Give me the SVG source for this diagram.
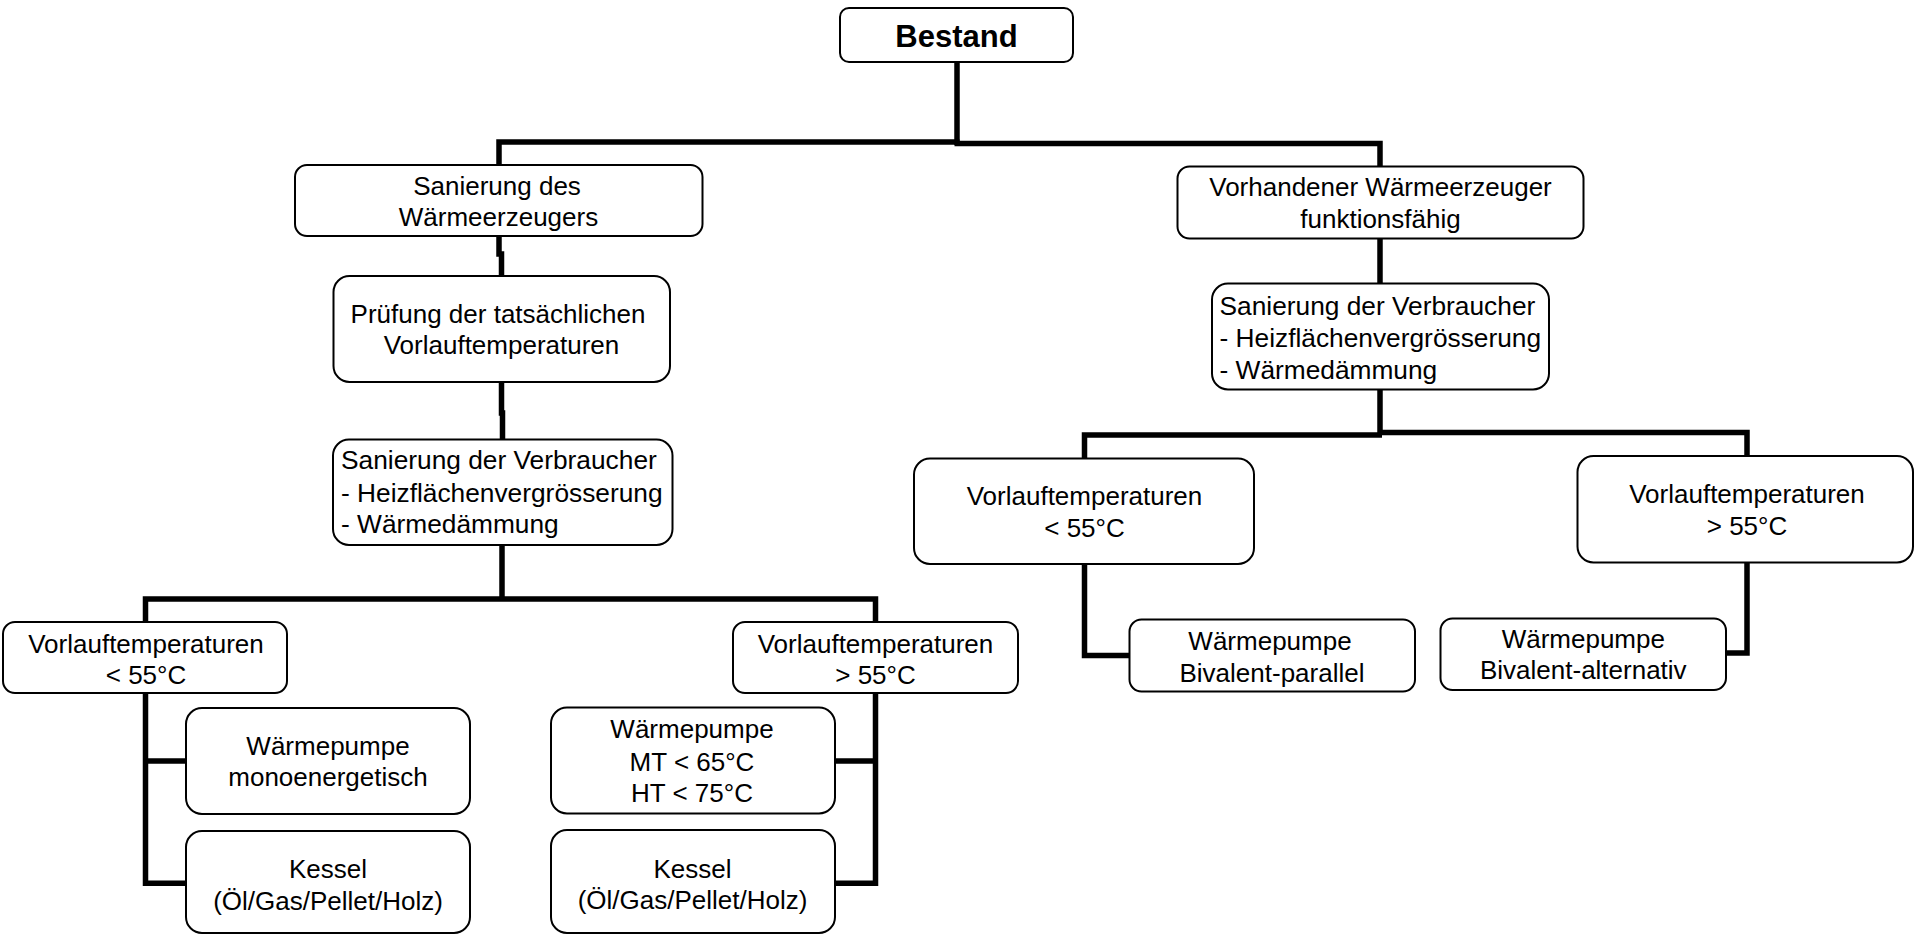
<svg xmlns="http://www.w3.org/2000/svg" width="1915" height="935" viewBox="0 0 1915 935">
<style>
  .box { fill: #ffffff; stroke: #000000; stroke-width: 2; }
  .t { font-family: "Liberation Sans", Arial, sans-serif; font-size: 26px; fill: #000000; text-anchor: middle; }
  .tl { font-family: "Liberation Sans", Arial, sans-serif; font-size: 26.3px; fill: #000000; text-anchor: start; }
  .tb { font-family: "Liberation Sans", Arial, sans-serif; font-size: 31px; font-weight: bold; fill: #000000; text-anchor: middle; }
  .con { fill: none; stroke: #000000; stroke-width: 5.5; stroke-linejoin: miter; stroke-linecap: butt; }
</style>
<rect x="0" y="0" width="1915" height="935" fill="#ffffff"/>
<g id="connectors">
  <path class="con" d="M957,62 V145"/>
  <path class="con" d="M959.5,142 H499 V165"/>
  <path class="con" d="M954.5,143.5 H1380 V166.5"/>
  <path class="con" d="M499,236 V254 H501.5 V276"/>
  <path class="con" d="M501.5,382 V413 H502.5 V439.5"/>
  <path class="con" d="M502,544.5 V599"/>
  <path class="con" d="M145.5,622 V599 H875.5 V622"/>
  <path class="con" d="M145.5,693 V883.3 H186 M145.5,761 H186"/>
  <path class="con" d="M875.5,693 V883.3 H835 M875.5,761 H835"/>
  <path class="con" d="M1380,238.5 V283.5"/>
  <path class="con" d="M1084.5,458.5 V435 H1382"/>
  <path class="con" d="M1380,389.5 V432.5 H1747 V456"/>
  <path class="con" d="M1084.5,564 V655.5 H1129.5"/>
  <path class="con" d="M1747,562.5 V653 H1726"/>
</g>
<g id="bestand">
  <rect class="box" x="840" y="8" width="233" height="54" rx="9"/>
  <text class="tb" x="956.5" y="46.5">Bestand</text>
</g>
<g id="sanierung-waermeerzeuger">
  <rect class="box" x="295" y="165" width="407.5" height="71" rx="12"/>
  <text class="t" x="497" y="195">Sanierung des</text>
  <text class="t" x="498.5" y="226">Wärmeerzeugers</text>
</g>
<g id="pruefung">
  <rect class="box" x="333.5" y="276" width="336.5" height="106" rx="16"/>
  <text class="t" x="498" y="322.7">Prüfung der tatsächlichen</text>
  <text class="t" x="501.5" y="354">Vorlauftemperaturen</text>
</g>
<g id="sanierung-verbraucher-links">
  <rect class="box" x="333" y="439.5" width="339.5" height="105.5" rx="16"/>
  <text class="tl" x="341" y="469.3">Sanierung der Verbraucher</text>
  <text class="tl" x="341" y="501.5">- Heizflächenvergrösserung</text>
  <text class="tl" x="341" y="532.7">- Wärmedämmung</text>
</g>
<g id="vorlauf-links-kleiner">
  <rect class="box" x="3" y="622" width="284" height="71" rx="12"/>
  <text class="t" x="146" y="652.7">Vorlauftemperaturen</text>
  <text class="t" x="146" y="684">&lt; 55°C</text>
</g>
<g id="waermepumpe-mono">
  <rect class="box" x="186" y="708" width="284" height="106" rx="16"/>
  <text class="t" x="328" y="755">Wärmepumpe</text>
  <text class="t" x="328" y="786">monoenergetisch</text>
</g>
<g id="kessel-links">
  <rect class="box" x="186" y="831" width="284" height="102" rx="16"/>
  <text class="t" x="328" y="877.7">Kessel</text>
  <text class="t" x="328" y="910">(Öl/Gas/Pellet/Holz)</text>
</g>
<g id="vorlauf-links-groesser">
  <rect class="box" x="733" y="622" width="285" height="71" rx="12"/>
  <text class="t" x="875.5" y="652.5">Vorlauftemperaturen</text>
  <text class="t" x="875.5" y="683.5">&gt; 55°C</text>
</g>
<g id="waermepumpe-mt-ht">
  <rect class="box" x="551" y="707.5" width="284" height="106" rx="16"/>
  <text class="t" x="692" y="738.3">Wärmepumpe</text>
  <text class="t" x="692" y="770.5">MT &lt; 65°C</text>
  <text class="t" x="692" y="801.7">HT &lt; 75°C</text>
</g>
<g id="kessel-rechts">
  <rect class="box" x="551" y="830" width="284" height="103" rx="16"/>
  <text class="t" x="692.5" y="878.3">Kessel</text>
  <text class="t" x="692.5" y="909.3">(Öl/Gas/Pellet/Holz)</text>
</g>
<g id="vorhandener-waermeerzeuger">
  <rect class="box" x="1177.5" y="166.5" width="406" height="72" rx="12"/>
  <text class="t" x="1380.5" y="195.7">Vorhandener Wärmeerzeuger</text>
  <text class="t" x="1380.5" y="228.3">funktionsfähig</text>
</g>
<g id="sanierung-verbraucher-rechts">
  <rect class="box" x="1212" y="283.5" width="337" height="106" rx="16"/>
  <text class="tl" x="1219.5" y="315">Sanierung der Verbraucher</text>
  <text class="tl" x="1219.5" y="346.7">- Heizflächenvergrösserung</text>
  <text class="tl" x="1219.5" y="379.3">- Wärmedämmung</text>
</g>
<g id="vorlauf-rechts-kleiner">
  <rect class="box" x="914" y="458.5" width="340" height="105.5" rx="16"/>
  <text class="t" x="1084.5" y="505">Vorlauftemperaturen</text>
  <text class="t" x="1084.5" y="536.7">&lt; 55°C</text>
</g>
<g id="vorlauf-rechts-groesser">
  <rect class="box" x="1577.5" y="456" width="335.5" height="106.5" rx="16"/>
  <text class="t" x="1747" y="503.3">Vorlauftemperaturen</text>
  <text class="t" x="1747" y="535">&gt; 55°C</text>
</g>
<g id="waermepumpe-bivalent-parallel">
  <rect class="box" x="1129.5" y="619.5" width="285.5" height="72" rx="12"/>
  <text class="t" x="1270" y="650">Wärmepumpe</text>
  <text class="t" x="1272" y="681.7">Bivalent-parallel</text>
</g>
<g id="waermepumpe-bivalent-alternativ">
  <rect class="box" x="1440.5" y="618.5" width="285.5" height="71.5" rx="12"/>
  <text class="t" x="1583.3" y="648.3">Wärmepumpe</text>
  <text class="t" x="1583.3" y="679.3">Bivalent-alternativ</text>
</g>
</svg>
